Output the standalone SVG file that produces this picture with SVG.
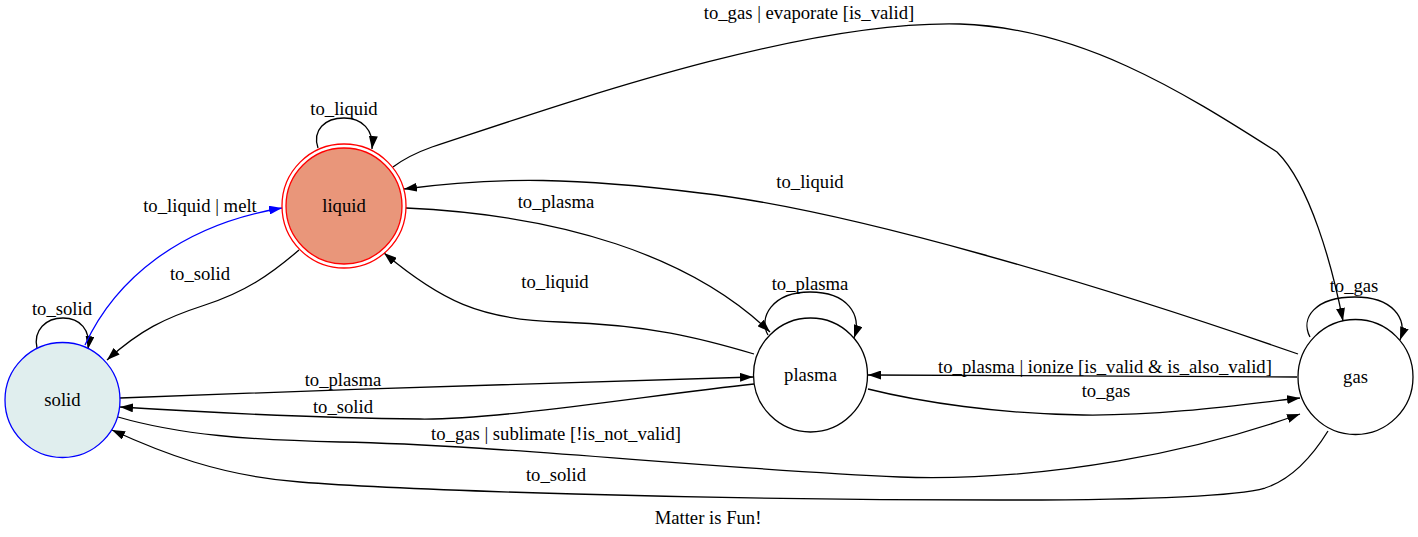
<svg xmlns="http://www.w3.org/2000/svg" width="1418" height="537" viewBox="0 0 1418 537">
<style>
text{font-family:"Liberation Serif","Times New Roman",serif;font-size:18.67px;fill:#000;text-anchor:middle}
.e{fill:none;stroke:#000;stroke-width:1.3}
.eb{fill:none;stroke:#0000ff;stroke-width:1.3}
.n{fill:none;stroke:#000;stroke-width:1.3}
</style>
<defs>
<marker id="ah" viewBox="0 0 13 9" refX="13" refY="4.5" markerWidth="13" markerHeight="9" markerUnits="userSpaceOnUse" orient="auto">
<path d="M0,0 L13,4.5 L0,9 Z" fill="#000"/>
</marker>
<marker id="ahb" viewBox="0 0 13 9" refX="13" refY="4.5" markerWidth="13" markerHeight="9" markerUnits="userSpaceOnUse" orient="auto">
<path d="M0,0 L13,4.5 L0,9 Z" fill="#0000ff"/>
</marker>
</defs>
<rect width="1418" height="537" fill="#fff"/>
<g id="connectors">
<!-- self loops -->
<path class="e" marker-end="url(#ah)" d="M318,148 C312,130 325,118 344,118 C362,118 374,130 372,149"/>
<path class="e" marker-end="url(#ah)" d="M37,348 C33,330 46,318 63,318 C80,318 91,330 88,349"/>
<path class="e" marker-end="url(#ah)" d="M768,335 C758,318 772,292 810,292 C848,292 862,315 854,338"/>
<path class="e" marker-end="url(#ah)" d="M1310,337 C1300,318 1315,297 1355,297 C1392,297 1408,318 1400,340"/>
<!-- solid -> liquid -->
<path class="eb" marker-end="url(#ahb)" d="M85,345 C115,280 180,225 282,208"/>
<text x="200" y="212">to_liquid | melt</text>
<!-- liquid -> solid -->
<path class="e" marker-end="url(#ah)" d="M299,250 C270,275 245,292 205,305 C165,318 140,330 107,360"/>
<text x="200" y="280">to_solid</text>
<!-- liquid -> gas -->
<path class="e" marker-end="url(#ah)" d="M393,167 C405,158 418,152 432,147 C560,105 800,20 960,24 C1080,28 1180,90 1277,152 C1310,185 1332,265 1343,321"/>
<text x="809" y="19">to_gas | evaporate [is_valid]</text>
<!-- gas -> liquid -->
<path class="e" marker-end="url(#ah)" d="M1298,354 C1100,285 850,210 700,193 C580,178 500,176 404,189"/>
<text x="810" y="188">to_liquid</text>
<!-- liquid -> plasma -->
<path class="e" marker-end="url(#ah)" d="M406,208 C560,215 690,255 770,332"/>
<text x="556" y="208">to_plasma</text>
<!-- plasma -> liquid -->
<path class="e" marker-end="url(#ah)" d="M754,354 C700,338 650,325 560,322 C480,320 440,300 384,253"/>
<text x="555" y="288">to_liquid</text>
<!-- solid -> plasma -->
<path class="e" marker-end="url(#ah)" d="M120,398 C330,390 550,382 753,377"/>
<text x="343" y="386">to_plasma</text>
<!-- plasma -> solid -->
<path class="e" marker-end="url(#ah)" d="M754,384 C650,395 500,420 420,419 C300,418 200,412 120,407"/>
<text x="343" y="413">to_solid</text>
<!-- solid -> gas -->
<path class="e" marker-end="url(#ah)" d="M118,417 C180,435 250,440 340,442 C500,445 700,468 900,477 C1050,482 1200,450 1300,414"/>
<text x="556" y="440">to_gas | sublimate [!is_not_valid]</text>
<!-- gas -> solid -->
<path class="e" marker-end="url(#ah)" d="M1328,431 C1310,460 1290,480 1265,488 C1230,498 1100,500 1000,500 C700,500 400,490 300,482 C220,476 160,452 112,430"/>
<text x="556" y="481">to_solid</text>
<!-- gas -> plasma -->
<path class="e" marker-end="url(#ah)" d="M1297,377 C1150,376 1000,375 868,375"/>
<text x="1105" y="373">to_plasma | ionize [is_valid &amp; is_also_valid]</text>
<!-- plasma -> gas -->
<path class="e" marker-end="url(#ah)" d="M868,389 C920,402 1000,414 1083,415 C1160,416 1240,405 1300,398"/>
<text x="1106" y="397">to_gas</text>
<!-- self loop labels -->
<text x="344" y="115">to_liquid</text>
<text x="62" y="315">to_solid</text>
<text x="810" y="290">to_plasma</text>
<text x="1354" y="292">to_gas</text>
</g>
<g id="liquid">
<circle cx="344" cy="206" r="62" fill="none" stroke="#ff0000" stroke-width="1.3"/>
<circle cx="344" cy="206" r="58" fill="#e9967a" stroke="#ff0000" stroke-width="1.3"/>
<text x="344" y="212">liquid</text>
</g>
<g id="solid">
<circle cx="62.5" cy="400" r="57.5" fill="#e0eeee" stroke="#0000ff" stroke-width="1.3"/>
<text x="62.5" y="406">solid</text>
</g>
<g id="plasma">
<circle cx="810.5" cy="375" r="57" class="n" fill="#fff"/>
<text x="810.5" y="381">plasma</text>
</g>
<g id="gas">
<circle cx="1355.5" cy="377" r="57.5" class="n"/>
<text x="1355.5" y="383">gas</text>
</g>
<text x="708" y="524">Matter is Fun!</text>
</svg>
